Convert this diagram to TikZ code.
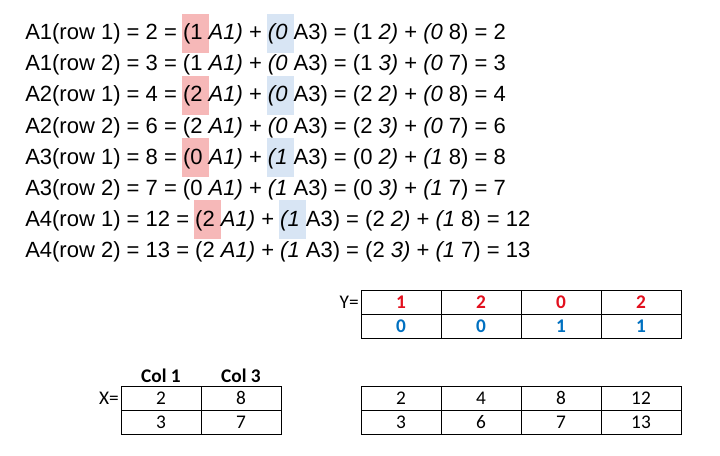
\documentclass[tikz,border=0pt]{standalone}
\usepackage{fontspec}
\setmainfont{Liberation Sans}
\newfontfamily\cellfont{Carlito}
\usepackage{xcolor}

\definecolor{hlred}{RGB}{246,184,184}
\definecolor{hlblue}{RGB}{216,229,244}
\definecolor{valred}{RGB}{226,16,30}
\definecolor{valblue}{RGB}{0,112,192}

% shaded box behind a coefficient, text keeps its place
\newcommand{\hlbox}[2]{\rlap{\setlength{\fboxsep}{0pt}\hspace{-1pt}\colorbox{#1}{\rule[-9.5pt]{0pt}{29pt}\hspace{1pt}\phantom{#2\ }}}#2}

\begin{document}
\begin{tikzpicture}[x=0.75pt, y=-0.75pt,
  eq/.style={anchor=base west, inner sep=0, font=\fontsize{16.5}{18}\selectfont},
  cell/.style={draw, line width=0.6pt, minimum width=60pt, minimum height=18pt, inner sep=0, font=\cellfont\fontsize{14.5}{16}\selectfont},
  lbl/.style={inner sep=0, font=\cellfont\fontsize{14.5}{16}\selectfont}]
\useasboundingbox (0, 0) rectangle (720, 456);

\node[eq] (r1) at (25, 40) {A1(row 1) = 2 = \hlbox{hlred}{(1} \textit{A1)} + \hlbox{hlblue}{\textit{(0}} A3) = (1 \textit{2)} + \textit{(0} 8) = 2};
\node[eq] (r2) at (25, 71) {A1(row 2) = 3 = (1 \textit{A1)} + \textit{(0} A3) = (1 \textit{3)} + \textit{(0} 7) = 3};
\node[eq] (r3) at (25, 102) {A2(row 1) = 4 = \hlbox{hlred}{(2} \textit{A1)} + \hlbox{hlblue}{\textit{(0}} A3) = (2 \textit{2)} + \textit{(0} 8) = 4};
\node[eq] (r4) at (25, 133) {A2(row 2) = 6 = (2 \textit{A1)} + \textit{(0} A3) = (2 \textit{3)} + \textit{(0} 7) = 6};
\node[eq] (r5) at (25, 164) {A3(row 1) = 8 = \hlbox{hlred}{(0} \textit{A1)} + \hlbox{hlblue}{\textit{(1}} A3) = (0 \textit{2)} + \textit{(1} 8) = 8};
\node[eq] (r6) at (25, 195) {A3(row 2) = 7 = (0 \textit{A1)} + \textit{(1} A3) = (0 \textit{3)} + \textit{(1} 7) = 7};
\node[eq] (r7) at (25, 226) {A4(row 1) = 12 = \hlbox{hlred}{(2} \textit{A1)} + \hlbox{hlblue}{\textit{(1}} A3) = (2 \textit{2)} + \textit{(1} 8) = 12};
\node[eq] (r8) at (25, 257) {A4(row 2) = 13 = (2 \textit{A1)} + \textit{(1} A3) = (2 \textit{3)} + \textit{(1} 7) = 13};

% Y
\node[lbl, anchor=east] (ylbl) at (359, 302) {Y=};
\node[cell, text=valred] (y11) at (401, 302) {\textbf{1}};
\node[cell, text=valred] (y12) at (481, 302) {\textbf{2}};
\node[cell, text=valred] (y13) at (561, 302) {\textbf{0}};
\node[cell, text=valred] (y14) at (641, 302) {\textbf{2}};
\node[cell, text=valblue] (y21) at (401, 326) {\textbf{0}};
\node[cell, text=valblue] (y22) at (481, 326) {\textbf{0}};
\node[cell, text=valblue] (y23) at (561, 326) {\textbf{1}};
\node[cell, text=valblue] (y24) at (641, 326) {\textbf{1}};

% X
\node[lbl] (col1) at (161, 376) {\textbf{Col 1}};
\node[lbl] (col3) at (241, 376) {\textbf{Col 3}};
\node[lbl, anchor=east] (xlbl) at (119, 398) {X=};
\node[cell] (x11) at (161, 398) {2};
\node[cell] (x12) at (241, 398) {8};
\node[cell] (x21) at (161, 422) {3};
\node[cell] (x22) at (241, 422) {7};

% result
\node[cell] (a11) at (401, 398) {2};
\node[cell] (a12) at (481, 398) {4};
\node[cell] (a13) at (561, 398) {8};
\node[cell] (a14) at (641, 398) {12};
\node[cell] (a21) at (401, 422) {3};
\node[cell] (a22) at (481, 422) {6};
\node[cell] (a23) at (561, 422) {7};
\node[cell] (a24) at (641, 422) {13};

\end{tikzpicture}
\end{document}
